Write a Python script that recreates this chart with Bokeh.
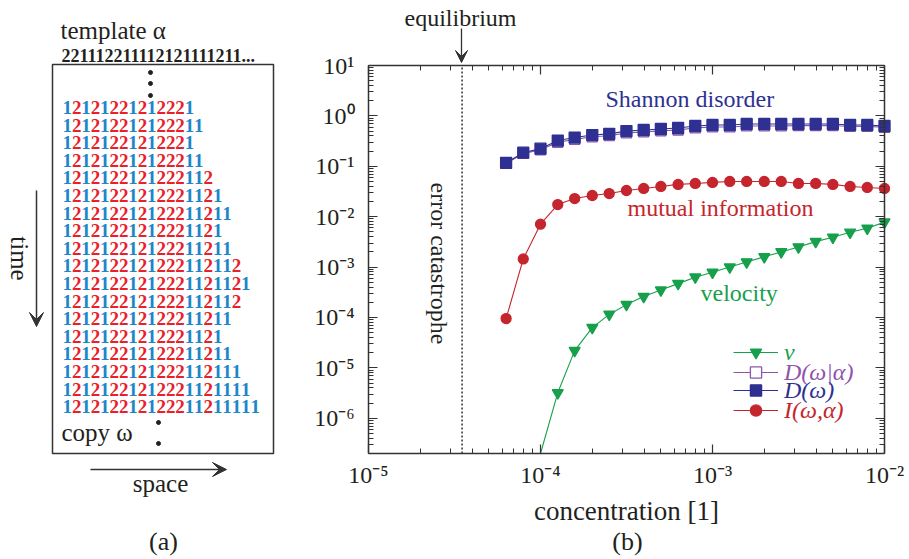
import math
from bokeh.plotting import figure
from bokeh.models import (Range1d, FixedTicker, LogAxis, LogScale, Label, Arrow, VeeHead,
                          Legend, LegendItem, ColumnDataSource, CDSView, BooleanFilter)
from bokeh.layouts import row
from bokeh.core.properties import value
from bokeh.embed import file_html
from bokeh.resources import INLINE

# ---------------- data ----------------
# panel (a): template and copies
template_text = "template \u03b1"
template_seq = "221112211112121111211..."
copy_rows = [
    "12121221212221",
    "121212212122211",
    "12121221212221",
    "121212212122211",
    "1212122121222112",
    "12121221212221121",
    "121212212122211211",
    "12121221212221121",
    "121212212122211211",
    "1212122121222112112",
    "12121221212221121121",
    "1212122121222112112",
    "121212212122211211",
    "12121221212221121",
    "121212212122211211",
    "1212122121222112111",
    "12121221212221121111",
    "121212212122211211111",
]

# panel (b)
conc = [6.31e-5, 7.94e-5, 1.00e-4, 1.26e-4, 1.58e-4, 2.00e-4, 2.51e-4, 3.16e-4,
        3.98e-4, 5.01e-4, 6.31e-4, 7.94e-4, 1.00e-3, 1.26e-3, 1.58e-3, 2.00e-3,
        2.51e-3, 3.16e-3, 3.98e-3, 5.01e-3, 6.31e-3, 7.94e-3, 1.00e-2]
velocity = [float("nan"), float("nan"), 2.0e-7, 3.2e-6, 2.2e-5, 6.3e-5, 1.15e-4,
            1.8e-4, 2.6e-4, 3.5e-4, 4.7e-4, 6.3e-4, 7.9e-4, 1.0e-3, 1.26e-3,
            1.6e-3, 2.0e-3, 2.5e-3, 3.2e-3, 3.9e-3, 4.9e-3, 5.9e-3, 7.8e-3]
D_cond = [0.114, 0.180, 0.212, 0.300, 0.342, 0.385, 0.405, 0.460, 0.482, 0.505,
          0.525, 0.578, 0.603, 0.603, 0.632, 0.632, 0.632, 0.640, 0.640, 0.645,
          0.618, 0.620, 0.595]
D_omega = [0.117, 0.186, 0.224, 0.324, 0.372, 0.417, 0.440, 0.500, 0.525, 0.550,
           0.575, 0.630, 0.660, 0.660, 0.690, 0.690, 0.690, 0.690, 0.690, 0.690,
           0.660, 0.660, 0.630]
mutual = [9.5e-5, 1.45e-3, 7.1e-3, 0.0174, 0.0229, 0.0263, 0.0288, 0.0331,
          0.0363, 0.0398, 0.0437, 0.0457, 0.0479, 0.050, 0.050, 0.050, 0.050,
          0.0457, 0.0457, 0.0437, 0.0398, 0.0380, 0.0363]
equilibrium_conc = 3.5e-5

x_lim = (1e-5, 1e-2)
y_lim = (2e-7, 10.0)
x_ticks = [1e-5, 1e-4, 1e-3, 1e-2]
x_tick_labels = ["10\u207b\u2075", "10\u207b\u2074", "10\u207b\u00b3", "10\u207b\u00b2"]
y_ticks = [1e-6, 1e-5, 1e-4, 1e-3, 1e-2, 1e-1, 1e0, 1e1]
y_tick_labels = ["10\u207b\u2076", "10\u207b\u2075", "10\u207b\u2074", "10\u207b\u00b3",
                 "10\u207b\u00b2", "10\u207b\u00b9", "10\u2070", "10\u00b9"]

# ---------------- styles / layout ----------------
FONT = "Liberation Serif"
BLACK = "#231f20"
GREEN = "#17a04c"
NAVY = "#2e3192"
PURPLE = "#8e55ad"
RED = "#c5252d"
DIG_BLUE = "#1b86c8"
DIG_RED = "#e8202a"

W_A, W_B, H = 298, 611, 559
# plot box of panel (b) in canvas pixels (relative to panel b canvas)
BOX_L, BOX_R, BOX_T, BOX_B = 70, 586, 65, 453

# ---------------- panel (a) ----------------
q = figure(width=W_A, height=H, x_range=Range1d(0, W_A), y_range=Range1d(H, 0),
           output_backend="svg", toolbar_location=None,
           x_axis_location=None, y_axis_location=None,
           min_border=0, min_border_left=0, min_border_right=0,
           min_border_top=0, min_border_bottom=0)
q.grid.visible = False
q.outline_line_color = None

q.text(x=[60], y=[30], text=[template_text], text_font=value(FONT),
       text_font_size="25px", text_color=BLACK, text_align="left", text_baseline="middle")
q.text(x=[61], y=[55], text=[template_seq], text_font=value(FONT),
       text_font_size="18px", text_font_style="bold", text_color=BLACK,
       text_align="left", text_baseline="middle")
q.quad(left=[52], right=[273], top=[64], bottom=[453], fill_color=None,
       line_color="#333333", line_width=1.5)

x0, cw, y0, rh = 62.0, 9.4, 107.0, 17.6
xs, ys, chars, cols = [], [], [], []
for i, s in enumerate(copy_rows):
    for j, ch in enumerate(s):
        xs.append(x0 + j * cw)
        ys.append(y0 + i * rh)
        chars.append(ch)
        cols.append(DIG_BLUE if ch == "1" else DIG_RED)
q.text(x=xs, y=ys, text=chars, text_color=cols, text_font=value(FONT),
       text_font_size="19px", text_font_style="bold", text_align="left",
       text_baseline="middle")

q.scatter(x=[150, 150, 150, 158, 158], y=[72, 83, 95, 422, 443], size=4,
          color=BLACK)
q.text(x=[61], y=[432], text=["copy \u03c9"], text_font=value(FONT),
       text_font_size="25px", text_color=BLACK, text_align="left", text_baseline="middle")

q.add_layout(Arrow(x_start=36, y_start=190, x_end=36, y_end=326, line_width=1.5,
                   line_color="#333333",
                   end=VeeHead(size=14, fill_color="#333333", line_color="#333333")))
q.text(x=[19], y=[258], text=["time"], angle=-math.pi / 2, text_font=value(FONT),
       text_font_size="25px", text_color=BLACK, text_align="center", text_baseline="middle")
q.add_layout(Arrow(x_start=90, y_start=469, x_end=226, y_end=469, line_width=1.5,
                   line_color="#333333",
                   end=VeeHead(size=14, fill_color="#333333", line_color="#333333")))
q.text(x=[160], y=[483], text=["space"], text_font=value(FONT),
       text_font_size="25px", text_color=BLACK, text_align="center", text_baseline="middle")
q.text(x=[163], y=[541], text=["(a)"], text_font=value(FONT),
       text_font_size="26px", text_color=BLACK, text_align="center", text_baseline="middle")

# ---------------- panel (b) ----------------
# the frame fills the whole canvas; the plot box is drawn with bounded axes
lx0, lx1 = math.log10(x_lim[0]), math.log10(x_lim[1])
ly0, ly1 = math.log10(y_lim[0]), math.log10(y_lim[1])
pxd = (BOX_R - BOX_L) / (lx1 - lx0)
pyd = (BOX_B - BOX_T) / (ly1 - ly0)
xr = Range1d(10 ** (lx0 - BOX_L / pxd), 10 ** (lx1 + (W_B - BOX_R) / pxd))
yr = Range1d(10 ** (ly0 - (H - BOX_B) / pyd), 10 ** (ly1 + BOX_T / pyd))

p = figure(width=W_B, height=H, x_axis_type=None, y_axis_type=None,
           x_range=xr, y_range=yr, output_backend="svg", toolbar_location=None,
           min_border=0, min_border_left=0, min_border_right=0,
           min_border_top=0, min_border_bottom=0)
p.x_scale = LogScale()
p.y_scale = LogScale()
p.grid.visible = False
p.outline_line_color = None
p.background_fill_color = None
p.border_fill_color = None

x_minor = [m * 10.0 ** k for k in range(-5, -2) for m in range(2, 10)]
y_minor = [m * 10.0 ** k for k in range(-7, 1) for m in range(2, 10)
           if y_lim[0] <= m * 10.0 ** k <= y_lim[1]]
xt = FixedTicker(ticks=x_ticks, minor_ticks=x_minor)
yt = FixedTicker(ticks=y_ticks, minor_ticks=y_minor)


def make_axis(ticker, loc, bounds, labels, overrides):
    ax = LogAxis(ticker=ticker, fixed_location=loc, bounds=bounds)
    ax.axis_line_width = 1.5
    ax.axis_line_color = "#333333"
    ax.major_tick_line_color = "#333333"
    ax.minor_tick_line_color = "#333333"
    ax.major_tick_in = 9
    ax.major_tick_out = 0
    ax.minor_tick_in = 5
    ax.minor_tick_out = 0
    ax.major_tick_line_width = 1.2
    ax.minor_tick_line_width = 1.0
    ax.major_label_text_font = FONT
    ax.major_label_text_color = BLACK
    if labels:
        ax.major_label_text_font_size = "24px"
        ax.major_label_overrides = overrides
    else:
        ax.major_label_text_font_size = "1px"
        ax.major_label_text_alpha = 0
        ax.major_label_standoff = 0
    return ax


bottom_ax = make_axis(xt, y_lim[0], x_lim, True, dict(zip(x_ticks, x_tick_labels)))
bottom_ax.major_label_standoff = 8
bottom_ax.axis_label = "concentration [1]"
bottom_ax.axis_label_text_font = FONT
bottom_ax.axis_label_text_font_size = "27px"
bottom_ax.axis_label_text_font_style = "normal"
bottom_ax.axis_label_text_color = BLACK
bottom_ax.axis_label_standoff = 5
p.add_layout(bottom_ax, "below")

left_ax = make_axis(yt, x_lim[0], y_lim, True, dict(zip(y_ticks, y_tick_labels)))
left_ax.major_label_standoff = 14
p.add_layout(left_ax, "left")

top_ax = make_axis(xt, y_lim[1], x_lim, False, None)
p.add_layout(top_ax, "above")
right_ax = make_axis(yt, x_lim[1], y_lim, False, None)
p.add_layout(right_ax, "right")

# equilibrium line inside the plot box
p.segment(x0=[equilibrium_conc], y0=[y_lim[0]], x1=[equilibrium_conc], y1=[y_lim[1]],
          line_color="#333333", line_dash="2 2", line_width=1.5)

series = [
    ("v", velocity, GREEN, "inverted_triangle", GREEN, 11),
    ("D(\u03c9|\u03b1)", D_cond, PURPLE, "square", "white", 10),
    ("D(\u03c9)", D_omega, NAVY, "square", NAVY, 11),
    ("I(\u03c9,\u03b1)", mutual, RED, "circle", RED, 10),
]
legend_bottoms = [193, 173, 155, 135]
for (lab, vals, col, mk, fill, sz), lb in zip(series, legend_bottoms):
    src = ColumnDataSource(dict(x=conc, y=vals))
    inside = [(v == v) and (v > y_lim[0]) for v in vals]
    ln = p.line("x", "y", source=src, line_color=col, line_width=1.1)
    sc = p.scatter("x", "y", source=src, view=CDSView(filter=BooleanFilter(inside)),
                   marker=mk, size=sz, fill_color=fill, line_color=col, line_width=1.3)
    lg = Legend(items=[LegendItem(label=lab, renderers=[ln, sc])], location=(435, lb),
                background_fill_alpha=0, border_line_alpha=0, padding=0, margin=0,
                glyph_width=45, glyph_height=28, label_height=28, label_standoff=6,
                label_text_font=FONT, label_text_font_size="24px",
                label_text_font_style="italic", label_text_color=col)
    p.add_layout(lg)

labels_b = [
    ("equilibrium", 162, 542, BLACK, "center", 0.0),
    ("error catastrophe", 140, 296, BLACK, "center", -math.pi / 2),
    ("Shannon disorder", 307, 461, NAVY, "left", 0.0),
    ("mutual information", 329, 352, RED, "left", 0.0),
    ("velocity", 402, 267, GREEN, "left", 0.0),
    ("(b)", 329, 18, BLACK, "center", 0.0),
]
for txt, sx, sy, col, al, ang in labels_b:
    p.add_layout(Label(x=sx, y=sy, x_units="screen", y_units="screen", text=txt,
                       text_font=FONT, text_font_size="24px" if txt != "(b)" else "26px",
                       text_color=col, text_align=al, text_baseline="middle", angle=ang))
p.add_layout(Arrow(x_start=163, y_start=531, x_end=163, y_end=497,
                   start_units="screen", end_units="screen", line_width=1.3,
                   line_color="#333333",
                   end=VeeHead(size=12, fill_color="#333333", line_color="#333333")))

layout = row(q, p, spacing=0)
open("out.html", "w").write(file_html(layout, INLINE))
